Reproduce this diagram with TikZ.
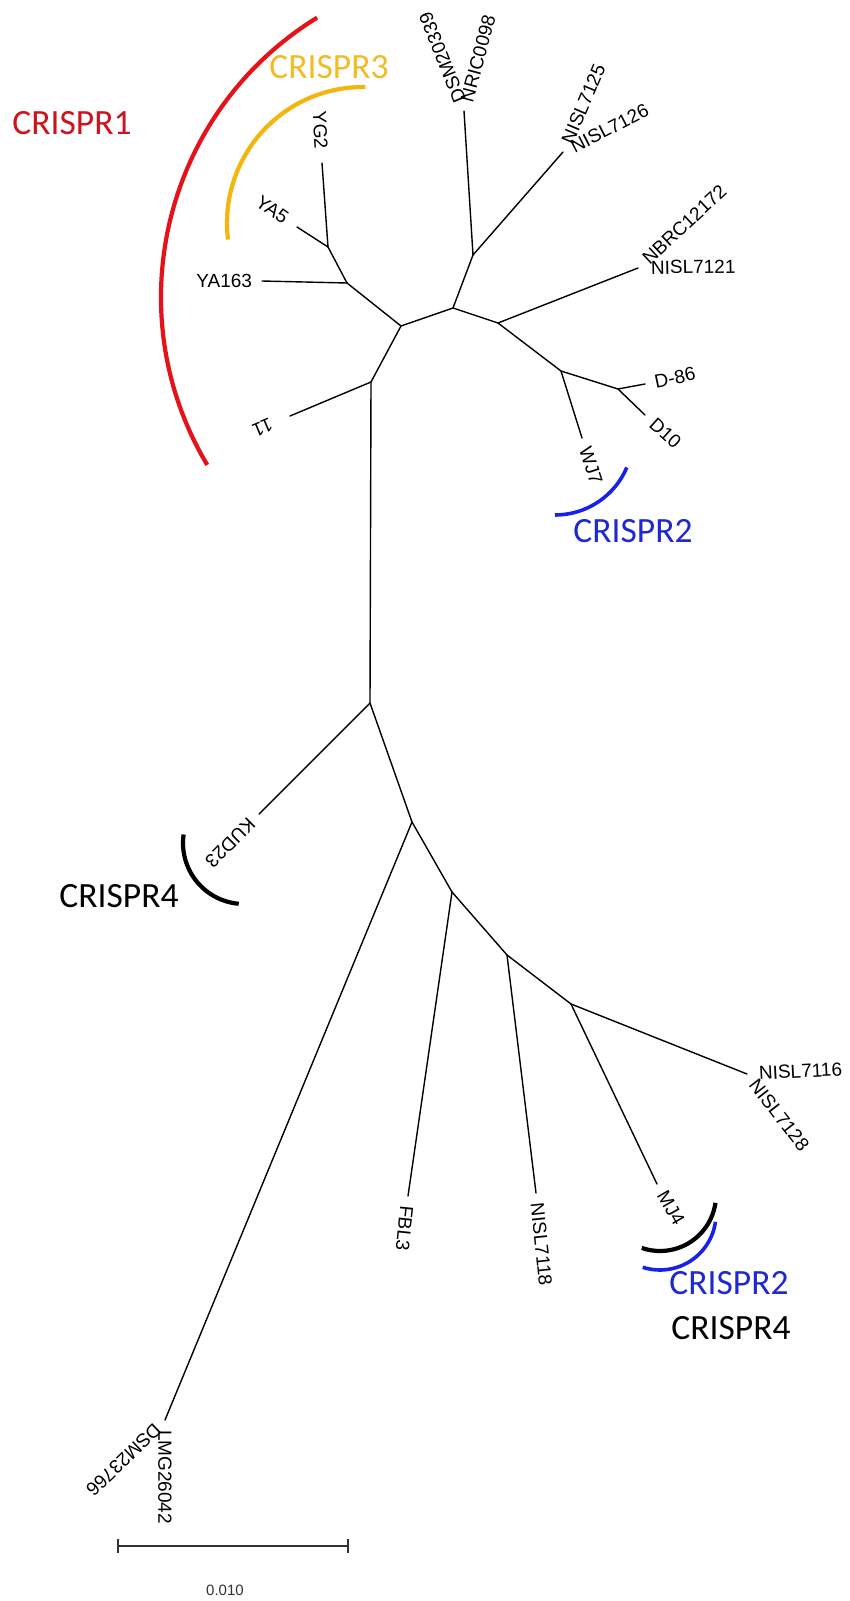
\documentclass[tikz,border=0pt]{standalone}
\usepackage{fontspec}
\setmainfont{Liberation Sans}
\newfontfamily\crfont{Carlito}
\definecolor{crred}{RGB}{230,18,26}
\definecolor{crredtxt}{RGB}{205,20,30}
\definecolor{crorange}{RGB}{242,182,14}
\definecolor{crorangetxt}{RGB}{240,188,40}
\definecolor{crblue}{RGB}{22,34,232}
\definecolor{crbluetxt}{RGB}{30,42,205}
\definecolor{sbgray}{RGB}{50,50,50}
\begin{document}
\begin{tikzpicture}[x=1pt,y=-1pt,
  branch/.style={line width=1.4pt, line cap=round},
  leaflab/.style={font=\fontsize{19}{19}\selectfont, inner xsep=10pt, inner ysep=0pt, outer sep=0pt},
  crlab/.style={font=\crfont\fontsize{35.5}{35.5}\selectfont, inner sep=0pt},
  arcline/.style={line width=4.2pt},
  scalebar/.style={line width=1.8pt, draw=sbgray},
]
\useasboundingbox (0,0) rectangle (850,1601);
\fill[white] (0,0) rectangle (850,1601);

% ---- internal nodes
\coordinate (r1) at (370,703);
\coordinate (r2) at (371,382);
\coordinate (a1) at (401,326);
\coordinate (a2) at (347,283);
\coordinate (a3) at (328,247);
\coordinate (b1) at (453,308);
\coordinate (b2) at (473,255);
\coordinate (b3) at (498,323);
\coordinate (b4) at (561,371);
\coordinate (b5) at (618,389);
\coordinate (c1) at (412,822);
\coordinate (c2) at (452,892);
\coordinate (c3) at (507,955);
\coordinate (c4) at (571,1004);

% ---- leaves
\coordinate (lYA163) at (262,281);
\coordinate (lYG2) at (322,163);
\coordinate (lYA5) at (297,227);
\coordinate (l11) at (290,416);
\coordinate (lDN) at (464,111);
\coordinate (lNI25) at (563,152);
\coordinate (lNB) at (638,268);
\coordinate (lWJ7) at (582,438);
\coordinate (lD86) at (645,384);
\coordinate (lD10) at (645,415);
\coordinate (lKUD) at (259,814);
\coordinate (lDSM) at (165,1420);
\coordinate (lFBL) at (408,1196);
\coordinate (lN18) at (536,1193);
\coordinate (lMJ4) at (657,1184);
\coordinate (lN16) at (747,1074);

% ---- branches
\draw[branch] (r1) -- (r2);
\draw[branch] (r2) -- (a1);
\draw[branch] (r2) -- (l11);
\draw[branch] (a1) -- (a2);
\draw[branch] (a2) -- (lYA163);
\draw[branch] (a2) -- (a3);
\draw[branch] (a3) -- (lYG2);
\draw[branch] (a3) -- (lYA5);
\draw[branch] (a1) -- (b1);
\draw[branch] (b1) -- (b2);
\draw[branch] (b2) -- (lDN);
\draw[branch] (b2) -- (lNI25);
\draw[branch] (b1) -- (b3);
\draw[branch] (b3) -- (lNB);
\draw[branch] (b3) -- (b4);
\draw[branch] (b4) -- (lWJ7);
\draw[branch] (b4) -- (b5);
\draw[branch] (b5) -- (lD86);
\draw[branch] (b5) -- (lD10);
\draw[branch] (r1) -- (lKUD);
\draw[branch] (r1) -- (c1);
\draw[branch] (c1) -- (lDSM);
\draw[branch] (c1) -- (c2);
\draw[branch] (c2) -- (lFBL);
\draw[branch] (c2) -- (c3);
\draw[branch] (c3) -- (lN18);
\draw[branch] (c3) -- (c4);
\draw[branch] (c4) -- (lMJ4);
\draw[branch] (c4) -- (lN16);

% ---- leaf labels
\node[leaflab, anchor=east] (tYA163) at (lYA163) {YA163};
\node[leaflab, anchor=east, rotate=-35, inner xsep=13pt] (tYA5) at (lYA5) {YA5};
\node[leaflab, anchor=east, rotate=-87, inner xsep=14pt] (tYG2) at (lYG2) {YG2};
\node[leaflab, anchor=west, rotate=203, inner xsep=20pt] (t11) at (l11) {11};
\node[leaflab, anchor=west, rotate=112] (tDSM2) at (lDN) {DSM20339};
\node[leaflab, anchor=west, rotate=75] (tNRIC) at (lDN) {NRIC0098};
\node[leaflab, anchor=west, rotate=67] (tN25) at (lNI25) {NISL7125};
\node[leaflab, anchor=west, rotate=27] (tN26) at (lNI25) {NISL7126};
\node[leaflab, anchor=west, rotate=43] (tNBRC) at (lNB) {NBRC12172};
\node[leaflab, anchor=west, rotate=1, inner xsep=13pt] (tN21) at (lNB) {NISL7121};
\node[leaflab, anchor=west, rotate=12] (tD86) at (lD86) {D-86};
\node[leaflab, anchor=west, rotate=-42] (tD10) at (lD10) {D10};
\node[leaflab, anchor=west, rotate=-72] (tWJ7) at (lWJ7) {WJ7};
\node[leaflab, anchor=west, rotate=225] (tKUD) at (lKUD) {KUD23};
\node[leaflab, anchor=west, rotate=224] (tDSM3) at (lDSM) {DSM23766};
\node[leaflab, anchor=west, rotate=-90] (tLMG) at (lDSM) {LMG26042};
\node[leaflab, anchor=west, rotate=-96] (tFBL) at (lFBL) {FBL3};
\node[leaflab, anchor=west, rotate=-84] (tN18) at (lN18) {NISL7118};
\node[leaflab, anchor=west, rotate=-60] (tMJ4) at (lMJ4) {MJ4};
\node[leaflab, anchor=west, rotate=3, inner xsep=12pt] (tN16) at (lN16) {NISL7116};
\node[leaflab, anchor=west, rotate=-52] (tN28) at (lN16) {NISL7128};

% ---- CRISPR arcs
\draw[arcline, crred] ([shift={(121.6:328pt)}]489,297) arc[start angle=121.6, end angle=210.8, radius=328pt];
\draw[arcline, crorange] ([shift={(89:136pt)}]363,223) arc[start angle=89, end angle=187, radius=136pt];
\draw[arcline, crblue, line width=3.6pt] ([shift={(-23:78pt)}]555,437) arc[start angle=-23, end angle=-90, radius=78pt];
\draw[arcline, black] ([shift={(172:61pt)}]244,843) arc[start angle=172, end angle=265, radius=61pt];
\draw[arcline, black] ([shift={(-8:56pt)}]660,1195) arc[start angle=-8, end angle=-109, radius=56pt];
\draw[arcline, crblue, line width=3.6pt] ([shift={(-8:56pt)}]660,1214) arc[start angle=-8, end angle=-108, radius=56pt];

% ---- CRISPR labels
\node[crlab, text=crredtxt] (cr1) at (72,123) {CRISPR1};
\node[crlab, text=crorangetxt] (cr3) at (329,67) {CRISPR3};
\node[crlab, text=crbluetxt] (cr2a) at (633,531) {CRISPR2};
\node[crlab, text=black] (cr4a) at (119,896) {CRISPR4};
\node[crlab, text=crbluetxt] (cr2b) at (729,1283) {CRISPR2};
\node[crlab, text=black] (cr4b) at (731,1328) {CRISPR4};

% ---- scale bar
\coordinate (sbL) at (118,1546);
\coordinate (sbR) at (348,1546);
\draw[scalebar] (sbL) -- (sbR);
\draw[scalebar] ([yshift=7pt]sbL) -- ([yshift=-7pt]sbL);
\draw[scalebar] ([yshift=7pt]sbR) -- ([yshift=-7pt]sbR);
\node[font=\fontsize{15}{15}\selectfont, text=sbgray, inner sep=0pt] (sblab) at (225,1590) {0.010};
\end{tikzpicture}
\end{document}
